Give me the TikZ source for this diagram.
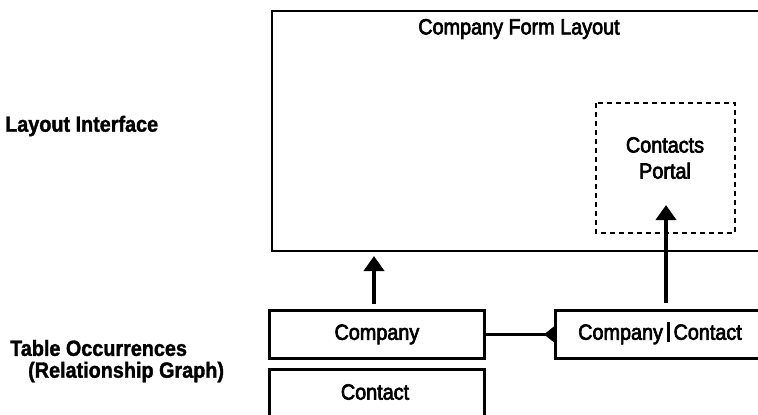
\documentclass[tikz,border=0pt]{standalone}
\usepackage{fontspec}
\setmainfont{Liberation Sans}[FakeStretch=0.9,FakeBold=3]
\newfontfamily\boldlab{Liberation Sans Bold}[FakeStretch=0.9,FakeBold=1.5]
\usetikzlibrary{arrows.meta}
\begin{document}
\begin{tikzpicture}[x=1pt,y=-1pt,
  box/.style={draw=black,line width=2.8pt},
  lab/.style={font=\fontsize{22}{25}\selectfont,inner sep=0pt},
  side/.style={font=\boldlab\fontsize{22}{25}\selectfont,inner sep=0pt,anchor=west},
  bigarrow/.style={line width=4.5pt,-{Triangle[length=15pt,width=20pt]}}]
\useasboundingbox (0,0) rectangle (758,415);
\clip (0,0) rectangle (758,415);
% main layout box
\draw[box] (272,11) rectangle (780,251);
\node[lab] (title) at (519,29) {Company Form Layout};
% portal
\draw[box,line width=2.4pt,dash pattern=on 5pt off 4pt] (596,103) rectangle (735,233);
\node[lab,align=center] (portal) at (665,158) {Contacts\\[1pt]Portal};
\coordinate (portalIn) at (666,205);
\coordinate (layoutIn) at (374,256);
% table occurrences
\node[box,minimum width=215pt,minimum height=48pt,inner sep=0pt,anchor=north west,lab] (company) at (268,309) {Company};
\node[box,minimum width=215pt,minimum height=60pt,inner sep=0pt,anchor=north west] (contact) at (268,368) {};
\node[lab] (contacttxt) at (375,392) {Contact};
\node[box,minimum width=240pt,minimum height=48pt,inner sep=0pt,anchor=north west] (cc) at (554,309) {};
\node[lab] (cctxt) at (660,333) {Company\hspace{4pt}\rule[-2pt]{2.6pt}{20pt}\hspace{4pt}Contact};
% connectors
\draw[line width=2.4pt] (company.east) -- (cc.west);
\fill (cc.west) ++(-10,0) coordinate (tip) -- ++(10,-8) -- ++(0,16) -- cycle;
\draw[bigarrow] (company.north -| layoutIn) ++(0,-5) -- (layoutIn);
\draw[bigarrow] (cc.north -| portalIn) ++(0,-6) -- (portalIn);
% side labels
\node[side] (li) at (5,126) {Layout Interface};
\node[side] (to) at (10,348) {Table Occurrences};
\node[side] (rg) at (28,372) {(Relationship Graph)};
\end{tikzpicture}
\end{document}
